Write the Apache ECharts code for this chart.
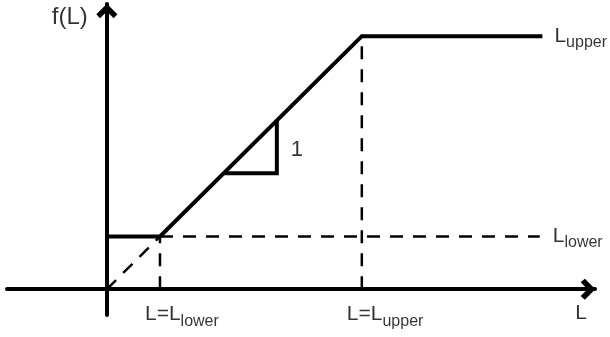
<!DOCTYPE html>
<html>
<head>
<meta charset="utf-8">
<script src="https://cdn.jsdelivr.net/npm/echarts@6/dist/echarts.min.js"></script>
<style>
  html, body { margin: 0; padding: 0; background: #fff; }
  #chart { width: 610px; height: 337px; }
</style>
</head>
<body>
<div id="chart"></div>
<script>
// break points of f(L), in units of L_lower
const lLower = 1;
const lUpper = 4.8;
const lEnd = 8.2;

const fCurve = [[0, lLower], [lLower, lLower], [lUpper, lUpper], [lEnd, lUpper]];
const diagDash = [[0, 0], [lLower, lLower]];
const lowerDrop = [[lLower, 0], [lLower, lLower]];
const upperDrop = [[lUpper, 0], [lUpper, lUpper]];
const lowerLevel = [[lLower, lLower], [8.15, lLower]];
const slopeTriangle = [[2.2, 2.2], [3.2, 2.2], [3.2, 3.2]];

const FONT = 'Liberation Sans, Arial, sans-serif';

const richStyle = {
    m: {fontSize: 21, fontFamily: FONT, color: '#000'},
    s: {fontSize: 16, fontFamily: FONT, color: '#000', padding: [13, 0, 0, 0]},
};

function solid(data) {
    return {
        type: 'line',
        data: data,
        showSymbol: false,
        silent: true,
        lineStyle: {color: '#000', width: 4, cap: 'butt', join: 'miter'},
    };
}

function dashed(data) {
    return {
        type: 'line',
        data: data,
        showSymbol: false,
        silent: true,
        lineStyle: {color: '#000', width: 2.5, type: [13, 10]},
    };
}

// text labels anchored to data points
function textPoint(point, text, label) {
    return {
        type: 'scatter',
        symbolSize: 0,
        silent: true,
        data: [point],
        label: Object.assign({
            show: true,
            formatter: text,
            rich: richStyle,
            color: '#000',
            fontFamily: FONT,
            fontSize: 21,
        }, label),
    };
}

const arrowPath = 'path://M0,10 L10,0 L20,10 L16.5,14 L10,7.5 L3.5,14 Z';

const axisLine = {
    show: true,
    onZero: true,
    symbol: ['none', arrowPath],
    symbolSize: [21, 15],
    symbolOffset: [0, -7],
    lineStyle: {color: '#000', width: 4},
};

const option = {
    animation: false,
    backgroundColor: '#fff',
    grid: {left: 7, right: 15, top: 4, bottom: 22},
    xAxis: {
        type: 'value',
        min: -1.88,
        max: 9.19,
        axisLine: axisLine,
        axisTick: {show: false},
        axisLabel: {show: false},
        splitLine: {show: false},
    },
    yAxis: {
        type: 'value',
        min: -0.49,
        max: 5.41,
        axisLine: axisLine,
        axisTick: {show: false},
        axisLabel: {show: false},
        splitLine: {show: false},
    },
    series: [
        dashed(diagDash),
        dashed(lowerDrop),
        dashed(upperDrop),
        dashed(lowerLevel),
        solid(fCurve),
        solid(slopeTriangle),
        textPoint([0, 5.15], 'f(L)', {position: 'left', distance: 19, fontSize: 24}),
        textPoint([lEnd, lUpper], '{m|L}{s|upper}', {position: 'right', distance: 12}),
        textPoint([8.15, lLower], '{m|L}{s|lower}', {position: 'right', distance: 13}),
        textPoint([lLower, 0], '{m|L=L}{s|lower}', {position: 'bottom', distance: 11, align: 'left', offset: [-15, 0]}),
        textPoint([lUpper, 0], '{m|L=L}{s|upper}', {position: 'bottom', distance: 11, align: 'left', offset: [-15, 0]}),
        textPoint([8.93, 0], 'L', {position: 'bottom', distance: 14}),
        textPoint([3.2, 2.65], '1', {position: 'right', distance: 14, fontSize: 22}),
    ],
};

const chart = echarts.init(document.getElementById('chart'));
chart.setOption(option);
</script>
</body>
</html>
